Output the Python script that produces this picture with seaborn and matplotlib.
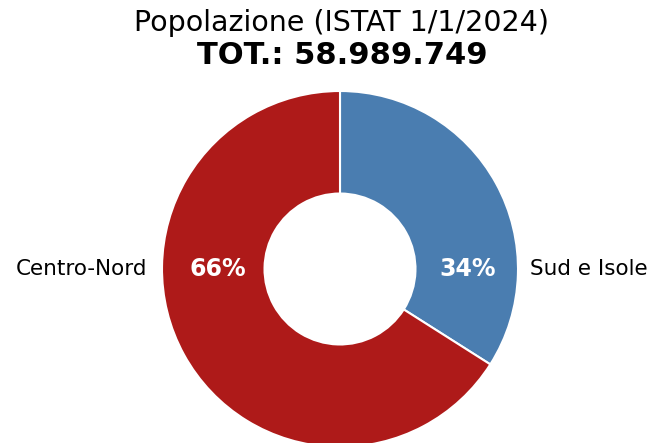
import matplotlib
matplotlib.use('Agg')
import matplotlib.pyplot as plt
import seaborn as sns

title = 'Popolazione (ISTAT 1/1/2024)'
subtitle = 'TOT.: 58.989.749'
areas = ['Sud e Isole', 'Centro-Nord']
shares = [34, 66]
colors = ['#4a7db0', '#ae1a19']

sns.set_theme(style='white')
plt.rcParams['font.family'] = ['DejaVu Sans']

fig = plt.figure(figsize=(6.51, 4.43), dpi=100)
# pie centred at (340, 269) px, outer radius 178 px
cx, cy, r = 340, 269, 178
ax = fig.add_axes([(cx - r) / 651, (443 - cy - r) / 443, 2 * r / 651, 2 * r / 443])

wedges, _ = ax.pie(shares, colors=colors, startangle=90, counterclock=False,
                   radius=1, wedgeprops=dict(width=0.576, edgecolor='white', linewidth=1.5))
ax.set_xlim(-1, 1)
ax.set_ylim(-1, 1)
ax.set_aspect('equal')
ax.axis('off')

# percent inside, name outside, both on the horizontal through the centre
pct_x = [0.715, -0.685]
name_x = [1.40, -1.455]
for area, share, px, nx in zip(areas, shares, pct_x, name_x):
    ax.text(px, 0, f'{share}%', ha='center', va='center', color='white',
            fontsize=17, fontweight='bold')
    ax.text(nx, 0, area, ha='center', va='center', color='black',
            fontsize=15.5, clip_on=False)

fig.text(342 / 651, 1 - 23 / 443, title, ha='center', va='center',
         fontsize=20.5, color='black')
fig.text(342 / 651, 1 - 55 / 443, subtitle, ha='center', va='center',
         fontsize=22, fontweight='bold', color='black')

fig.savefig('out.png', dpi=100)
